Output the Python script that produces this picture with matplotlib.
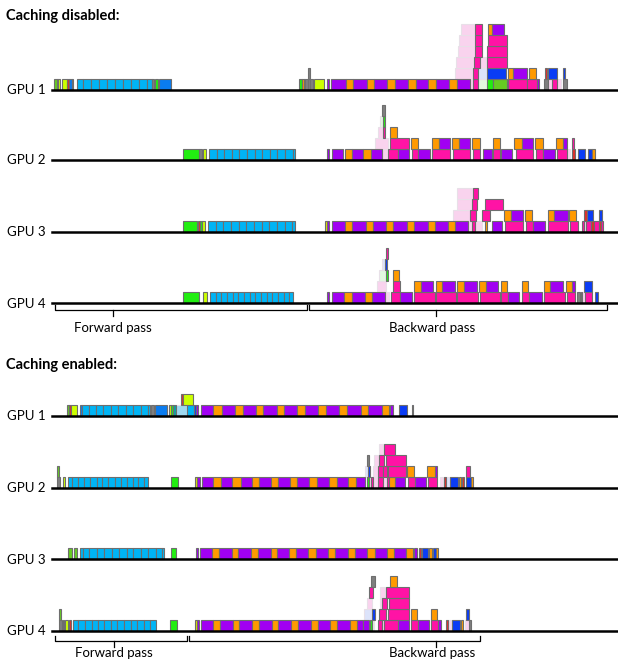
import matplotlib.pyplot as plt

plt.rcParams['font.family'] = ['Lato', 'DejaVu Sans']

COLORS = {
    'lb': '#00B4F5', 'pu': '#A100F2', 'or': '#FF9A00', 'mg': '#FF13A5',
    'lp': '#F9D3EE', 'gr': '#22EE11', 'yg': '#CCFF00', 'lg': '#66CC22',
    'bl': '#0A3CF5', 'mb': '#0A7CF0', 'gy': '#7F7F7F', 'rd': '#E0302A',
    'pb': '#DCE3FA', 'pg': '#E3F7E0', 'sk': '#9ED8F0', 'tl': '#10A0A0',
    'yl': '#E5E500',
}
PALE = {'lp', 'pb', 'pg', 'sk'}
LEVEL_H = 11

# kernels: (start, end, stack level, colour key) -- time in trace units
dis_gpu1 = [
    (54, 56.5, 0, 'lg'), (56.5, 58, 0, 'rd'), (58, 59.5, 0, 'yg'), (61.5, 66.5, 0, 'yg'),
    (66.5, 68.5, 0, 'rd'), (68.5, 71.5, 0, 'mb'), (71.5, 73, 0, 'bl'),
    (77, 83.3, 0, 'lb'), (83.3, 90.7, 0, 'lb'), (90.7, 98.7, 0, 'lb'), (98.7, 106.7, 0, 'lb'),
    (106.7, 115, 0, 'lb'), (115, 123.3, 0, 'lb'), (123.3, 131.3, 0, 'lb'), (131.3, 139.3, 0, 'lb'),
    (139.3, 147.3, 0, 'lb'), (147.3, 151.5, 0, 'lb'),
    (151.5, 154, 0, 'gy'), (154.5, 158, 0, 'gr'), (158.5, 170.5, 0, 'mb'),
    (299.3, 301.7, 0, 'gr'), (301.7, 303.5, 0, 'or'), (303.5, 305, 0, 'lb'), (305, 308.3, 0, 'gy'),
    (308.3, 310, 0, 'gy'), (308.3, 310, 1, 'gy'), (310, 312.7, 0, 'gy'),
    (314, 324, 0, 'yg'), (327.3, 329.3, 0, 'pu'), (330.7, 346, 0, 'pu'), (346, 353.3, 0, 'or'),
    (353.3, 366.7, 0, 'pu'), (366.7, 374, 0, 'or'), (374, 387.3, 0, 'pu'), (387.3, 395, 0, 'or'),
    (395, 408.3, 0, 'pu'), (408.3, 416, 0, 'or'), (416, 428.3, 0, 'pu'), (428.3, 436, 0, 'or'),
    (436, 449.3, 0, 'pu'), (449.3, 457.3, 0, 'or'), (457.3, 470, 0, 'pu'), (470, 472.7, 0, 'lp'),
    (472.7, 478.3, 0, 'mg'), (478.3, 486.7, 0, 'pg'), (486.7, 493.3, 0, 'gr'), (493.3, 506.7, 0, 'lg'),
    (508.3, 526.7, 0, 'mg'), (526.7, 536.7, 0, 'mg'), (536.7, 539.3, 0, 'pu'), (544, 548.3, 0, 'gy'),
    (548.3, 551.7, 0, 'lp'), (551.7, 556.7, 0, 'mg'), (556.7, 561, 0, 'lp'), (562.7, 567.3, 0, 'gy'),
    (455, 472.7, 1, 'lp'), (472.7, 478.3, 1, 'mg'), (478.3, 486.7, 1, 'pb'), (486.7, 506.3, 1, 'bl'),
    (508.3, 512.7, 1, 'or'), (513.3, 526.7, 1, 'pu'), (529, 536, 1, 'or'), (545, 546.7, 1, 'rd'),
    (548.3, 557.3, 1, 'bl'), (563.3, 565, 1, 'bl'),
    (455.7, 474, 2, 'lp'), (474, 480, 2, 'mg'), (480, 486, 2, 'lp'), (486.7, 506.7, 2, 'mg'),
    (457.7, 475, 3, 'lp'), (475, 481.7, 3, 'mg'), (486.7, 506.7, 3, 'mg'),
    (459, 475, 4, 'lp'), (475, 481.7, 4, 'mg'), (488, 506.7, 4, 'mg'),
    (460.7, 475, 5, 'lp'), (475, 481.7, 5, 'mg'), (488.3, 491.7, 5, 'or'), (492.3, 504, 5, 'pu'),
]

dis_gpu2 = [
    (183.3, 199.3, 0, 'gr'), (199.3, 201.7, 0, 'gy'), (202.7, 206, 0, 'yg'),
    (209.3, 216.7, 0, 'lb'), (216.7, 224.3, 0, 'lb'), (224.3, 232, 0, 'lb'), (232, 239.3, 0, 'lb'),
    (239.3, 247, 0, 'lb'), (247, 254.7, 0, 'lb'), (254.7, 262.3, 0, 'lb'), (262.3, 270, 0, 'lb'),
    (270, 277.3, 0, 'lb'), (277.3, 285, 0, 'lb'), (285, 292.7, 0, 'lb'), (292.7, 295, 0, 'lb'),
    (327.3, 329.3, 0, 'pu'), (331.7, 343.3, 0, 'pu'), (345, 351.7, 0, 'or'), (351.7, 363.3, 0, 'pu'),
    (363.3, 370.7, 0, 'or'), (370.7, 381.7, 0, 'pu'), (381.7, 388.3, 0, 'lp'), (388.3, 398.3, 0, 'mg'),
    (398.3, 409.3, 0, 'pu'), (411.7, 418.3, 0, 'mg'), (418.3, 430, 0, 'pu'), (432.3, 450, 0, 'mg'),
    (452.7, 470, 0, 'mg'), (472.7, 480, 0, 'mg'), (483.3, 491.7, 0, 'pu'), (492.7, 500, 0, 'mg'),
    (501, 511.7, 0, 'pu'), (515.7, 533.3, 0, 'mg'), (535.7, 543.3, 0, 'mg'), (543.3, 555, 0, 'pu'),
    (556.7, 566.7, 0, 'mg'), (566.7, 570, 0, 'lp'), (571.7, 575, 0, 'rd'), (578.3, 585, 0, 'bl'),
    (588.3, 591.7, 0, 'bl'), (591.7, 595, 0, 'or'),
    (375, 388.3, 1, 'lp'), (390, 409.3, 1, 'mg'), (410.7, 417.7, 1, 'or'), (431.7, 439, 1, 'or'),
    (439, 450, 1, 'pu'), (452.3, 459.3, 1, 'or'), (459.3, 470, 1, 'pu'), (472.3, 480, 1, 'or'),
    (493.3, 500, 1, 'or'), (514, 521.7, 1, 'or'), (521.7, 532.7, 1, 'pu'), (535, 542.7, 1, 'or'),
    (556, 563.3, 1, 'or'), (563.3, 566.7, 1, 'pu'), (571.7, 574, 1, 'mg'),
    (377.7, 383.3, 2, 'lp'), (382.7, 385, 2, 'mg'), (390, 396.7, 2, 'or'),
    (380, 382.7, 3, 'pg'), (382.7, 385, 3, 'gr'),
    (381.7, 385, 4, 'gy'),
]

dis_gpu3 = [
    (182.7, 196.7, 0, 'gr'), (197.7, 200, 0, 'rd'), (200, 201.7, 0, 'gr'), (201.7, 205, 0, 'yg'),
    (208.3, 216, 0, 'lb'), (216, 223.3, 0, 'lb'), (223.3, 231, 0, 'lb'), (231, 238.7, 0, 'lb'),
    (238.7, 246.3, 0, 'lb'), (246.3, 254, 0, 'lb'), (254, 261.7, 0, 'lb'), (261.7, 269.3, 0, 'lb'),
    (269.3, 277, 0, 'lb'), (277, 284.7, 0, 'lb'), (284.7, 291.7, 0, 'lb'), (291.7, 295, 0, 'lb'),
    (325, 326.7, 0, 'yl'), (326.7, 329.3, 0, 'pu'), (331.7, 345, 0, 'pu'), (345, 351.7, 0, 'or'),
    (351.7, 366, 0, 'pu'), (366, 372.7, 0, 'or'), (372.7, 386, 0, 'pu'), (386, 393.3, 0, 'or'),
    (393.3, 406.7, 0, 'pu'), (406.7, 414, 0, 'or'), (414, 427.7, 0, 'pu'), (427.7, 435, 0, 'or'),
    (435, 448.3, 0, 'pu'), (448.3, 455, 0, 'or'), (455, 468.3, 0, 'pu'), (468.3, 471.7, 0, 'lp'),
    (471.7, 475, 0, 'mg'), (475, 481.7, 0, 'lp'), (485, 487.3, 0, 'or'), (491.7, 501.7, 0, 'pu'),
    (505, 523.3, 0, 'mg'), (525.7, 532.7, 0, 'mg'), (532.7, 545, 0, 'pu'), (547.7, 568.3, 0, 'mg'),
    (570, 578.3, 0, 'mg'), (581.7, 584, 0, 'mg'), (584, 586, 0, 'lp'), (586, 591, 0, 'mg'),
    (591, 594, 0, 'rd'), (594, 599, 0, 'mg'), (599, 601, 0, 'rd'), (601, 603.3, 0, 'mg'),
    (453.3, 470, 1, 'lp'), (470, 476, 1, 'mg'), (481.7, 490, 1, 'mg'), (504.3, 510.7, 1, 'or'),
    (510.7, 522.7, 1, 'pu'), (525, 531.7, 1, 'or'), (547.7, 554, 1, 'or'), (554, 568.3, 1, 'pu'),
    (569.3, 576, 1, 'or'), (584.3, 586.7, 1, 'rd'), (586.7, 593.3, 1, 'bl'), (599, 601.7, 1, 'bl'),
    (456.7, 471.7, 2, 'lp'), (471.7, 476.7, 2, 'mg'), (485, 502.7, 2, 'mg'),
    (457.3, 472.7, 3, 'lp'), (472.7, 478.3, 3, 'mg'),
]

dis_gpu4 = [
    (183.3, 199, 0, 'gr'), (203.3, 206.7, 0, 'yg'),
    (210, 215.7, 0, 'lb'), (215.7, 221.3, 0, 'lb'), (221.3, 227, 0, 'lb'), (227, 232.7, 0, 'lb'),
    (232.7, 238.3, 0, 'lb'), (238.3, 244, 0, 'lb'), (244, 249.7, 0, 'lb'), (249.7, 255.3, 0, 'lb'),
    (255.3, 261, 0, 'lb'), (261, 266.7, 0, 'lb'), (266.7, 272.3, 0, 'lb'), (272.3, 278, 0, 'lb'),
    (278, 283.7, 0, 'lb'), (283.7, 289.3, 0, 'lb'), (289.3, 292.7, 0, 'lb'),
    (327.3, 329.3, 0, 'pu'), (331.7, 344, 0, 'pu'), (344, 351.7, 0, 'or'), (351.7, 365, 0, 'pu'),
    (365, 371.7, 0, 'or'), (371.7, 385, 0, 'pu'), (385, 389.3, 0, 'lp'), (391, 400, 0, 'mg'),
    (400, 412.3, 0, 'pu'), (414.3, 435, 0, 'mg'), (435.7, 456, 0, 'mg'), (457.3, 478.3, 0, 'mg'),
    (480, 500, 0, 'mg'), (501, 507.7, 0, 'mg'), (507.7, 519.3, 0, 'pu'), (521.7, 529, 0, 'mg'),
    (529, 541.7, 0, 'pu'), (544, 565, 0, 'mg'), (566.7, 575, 0, 'mg'), (576.7, 580, 0, 'gy'),
    (580.7, 582.3, 0, 'rd'), (582.3, 585, 0, 'lp'), (585, 591.7, 0, 'mg'), (595, 598.3, 0, 'bl'),
    (376.7, 386, 1, 'lp'), (392.7, 400, 1, 'mg'), (414.3, 420.7, 1, 'or'), (420.7, 433.3, 1, 'pu'),
    (435.7, 442.3, 1, 'or'), (442.3, 455, 1, 'pu'), (457.3, 464, 1, 'or'), (464, 476.7, 1, 'pu'),
    (479.3, 486, 1, 'or'), (486, 498.3, 1, 'pu'), (500.7, 506.7, 1, 'or'), (521.7, 528.3, 1, 'or'),
    (544, 550, 1, 'or'), (550, 563.3, 1, 'pu'), (565.7, 572.3, 1, 'or'), (572.3, 575, 1, 'pu'),
    (584.3, 591.7, 1, 'bl'),
    (379.3, 386, 2, 'pg'), (386, 387.7, 2, 'gr'), (392.7, 399.3, 2, 'or'),
    (381.7, 385.3, 3, 'pb'), (385.3, 387.3, 3, 'bl'),
    (385.7, 388.3, 4, 'mg'),
]

en_gpu1 = [
    (67.3, 69, 0, 'lg'), (69, 71, 0, 'rd'), (71, 76.7, 0, 'yg'),
    (80, 82.3, 0, 'mb'), (82.3, 89, 0, 'lb'), (89, 95.7, 0, 'lb'), (95.7, 103.3, 0, 'lb'),
    (103.3, 110.7, 0, 'lb'), (110.7, 118.3, 0, 'lb'), (118.3, 125.7, 0, 'lb'), (125.7, 133.3, 0, 'lb'),
    (133.3, 140.7, 0, 'lb'), (140.7, 148.3, 0, 'lb'), (148.3, 150, 0, 'lb'),
    (151, 154.3, 0, 'gy'), (155, 167.3, 0, 'mb'), (169.3, 171, 0, 'yg'), (171, 172.7, 0, 'gr'),
    (172.7, 176, 0, 'tl'), (176, 186.7, 0, 'sk'), (186.7, 194, 0, 'lb'), (194, 195.7, 0, 'bl'),
    (195.7, 197.5, 0, 'pu'), (201, 213.3, 0, 'pu'), (213.3, 221.7, 0, 'or'), (221.7, 235, 0, 'pu'),
    (235, 242.7, 0, 'or'), (242.7, 256, 0, 'pu'), (256, 263.3, 0, 'or'), (263.3, 276.7, 0, 'pu'),
    (276.7, 284, 0, 'or'), (284, 297.3, 0, 'pu'), (297.3, 305, 0, 'or'), (305, 318.3, 0, 'pu'),
    (318.3, 326, 0, 'or'), (326, 339.3, 0, 'pu'), (339.3, 346.7, 0, 'or'), (346.7, 360.7, 0, 'pu'),
    (360.7, 368.3, 0, 'or'), (368.3, 381.7, 0, 'pu'), (381.7, 389.3, 0, 'or'), (390, 392.7, 0, 'pu'),
    (399, 406.7, 0, 'bl'), (411.7, 413.3, 0, 'bl'),
    (181, 182.7, 1, 'rd'), (183.3, 192.7, 1, 'yg'),
]

en_gpu2 = [
    (56.7, 60, 0, 'gy'), (56.7, 59.3, 1, 'lg'), (62.7, 65, 0, 'yg'),
    (68.3, 72.3, 0, 'lb'), (72.3, 78.3, 0, 'lb'), (78.3, 84, 0, 'lb'), (84, 90, 0, 'lb'),
    (90, 96.7, 0, 'lb'), (96.7, 102.3, 0, 'lb'), (102.3, 108.3, 0, 'lb'), (108.3, 115, 0, 'lb'),
    (115, 120.7, 0, 'lb'), (120.7, 126.7, 0, 'lb'), (126.7, 132.7, 0, 'lb'), (132.7, 138.3, 0, 'lb'),
    (138.3, 144, 0, 'lb'), (144, 148.3, 0, 'lb'), (171, 177.7, 0, 'gr'),
    (195, 196.7, 0, 'yl'), (196.7, 200, 0, 'pu'), (201.7, 213.3, 0, 'pu'), (213.3, 220.7, 0, 'or'),
    (220.7, 232.3, 0, 'pu'), (232.3, 240.7, 0, 'or'), (240.7, 251.7, 0, 'pu'), (251.7, 259.3, 0, 'or'),
    (259.3, 271, 0, 'pu'), (271, 278.3, 0, 'or'), (278.3, 290, 0, 'pu'), (290, 297.3, 0, 'or'),
    (297.3, 309.3, 0, 'pu'), (309.3, 316.7, 0, 'or'), (316.7, 329, 0, 'pu'), (329, 336.7, 0, 'or'),
    (336.7, 348.3, 0, 'pu'), (348.3, 356, 0, 'or'), (356, 365, 0, 'pu'), (366.7, 369, 0, 'gr'),
    (369, 371, 0, 'lp'), (371, 373.3, 0, 'mg'), (373.3, 378.3, 0, 'lp'), (378.3, 383.3, 0, 'mg'),
    (383.3, 386.7, 0, 'lp'), (386.7, 389.3, 0, 'mg'), (389.3, 395, 0, 'or'), (395, 405, 0, 'pu'),
    (407.7, 415, 0, 'mg'), (415, 426, 0, 'pu'), (427.7, 437.3, 0, 'mg'), (440, 442.7, 0, 'lp'),
    (444.3, 446, 0, 'rd'), (446, 450, 0, 'pb'), (450, 458.3, 0, 'bl'), (459.3, 461, 0, 'or'),
    (462.3, 464, 0, 'rd'), (465.7, 470.7, 0, 'bl'), (470.7, 472.7, 0, 'or'),
    (365, 368.3, 1, 'pb'), (368.3, 370, 1, 'bl'), (373.3, 378.3, 1, 'lp'), (378.3, 382.7, 1, 'mg'),
    (383.3, 386.7, 1, 'mg'), (387.7, 406, 1, 'mg'), (407.3, 414, 1, 'or'), (427.3, 435, 1, 'or'),
    (435, 437.3, 1, 'pu'), (466, 470, 1, 'mg'),
    (366.7, 369.3, 2, 'gy'), (374, 379, 2, 'lp'), (379.3, 384, 2, 'mg'), (386, 406, 2, 'mg'),
    (379.3, 383.3, 3, 'lp'), (384, 395, 3, 'mg'),
]

en_gpu3 = [
    (68.3, 71.7, 0, 'lg'), (74.3, 77.3, 0, 'lg'),
    (80, 82.7, 0, 'lb'), (82.7, 89.3, 0, 'lb'), (89.3, 96.7, 0, 'lb'), (96.7, 104, 0, 'lb'),
    (104, 111.7, 0, 'lb'), (111.7, 119, 0, 'lb'), (119, 126.7, 0, 'lb'), (126.7, 133.3, 0, 'lb'),
    (133.3, 140.7, 0, 'lb'), (140.7, 148.3, 0, 'lb'), (148.3, 155.7, 0, 'lb'), (155.7, 161.7, 0, 'lb'),
    (161.7, 164, 0, 'lb'), (170.7, 175.7, 0, 'gr'),
    (196, 198.3, 0, 'pu'), (200, 212.3, 0, 'pu'), (212.3, 219, 0, 'or'), (219, 231.7, 0, 'pu'),
    (231.7, 238.3, 0, 'or'), (238.3, 250.7, 0, 'pu'), (250.7, 258.3, 0, 'or'), (258.3, 270.7, 0, 'pu'),
    (270.7, 277.3, 0, 'or'), (277.3, 289.3, 0, 'pu'), (289.3, 296, 0, 'or'), (296, 308.3, 0, 'pu'),
    (308.3, 316, 0, 'or'), (316, 328.3, 0, 'pu'), (328.3, 335, 0, 'or'), (335, 347.7, 0, 'pu'),
    (347.7, 355, 0, 'or'), (355, 367.3, 0, 'pu'), (367.3, 375, 0, 'or'), (375, 387.3, 0, 'pu'),
    (387.3, 394, 0, 'or'), (394, 405.7, 0, 'pu'), (405.7, 413.3, 0, 'or'), (414, 416.7, 0, 'pu'),
    (419, 420.7, 0, 'rd'), (421.7, 428.3, 0, 'bl'), (429.3, 431.7, 0, 'or'), (433.3, 436, 0, 'bl'),
    (436, 438.3, 0, 'or'),
]

en_gpu4 = [
    (59.3, 61.7, 0, 'gy'), (59.3, 61, 1, 'lg'), (62.7, 64.3, 0, 'rd'), (65, 68.3, 0, 'yg'),
    (69, 71, 0, 'rd'),
    (72.7, 78.3, 0, 'lb'), (78.3, 85, 0, 'lb'), (85, 91.7, 0, 'lb'), (91.7, 97.7, 0, 'lb'),
    (97.7, 104, 0, 'lb'), (104, 110.7, 0, 'lb'), (110.7, 117.3, 0, 'lb'), (117.3, 124, 0, 'lb'),
    (124, 130.7, 0, 'lb'), (130.7, 137.3, 0, 'lb'), (137.3, 144, 0, 'lb'), (144, 150, 0, 'lb'),
    (150, 156, 0, 'lb'), (170, 176.7, 0, 'gr'),
    (195, 196.7, 0, 'yl'), (196.7, 199, 0, 'pu'), (200.7, 212.7, 0, 'pu'), (213.3, 220, 0, 'or'),
    (220, 232.7, 0, 'pu'), (232.7, 239.3, 0, 'or'), (239.3, 251.7, 0, 'pu'), (251.7, 259.3, 0, 'or'),
    (259.3, 271.7, 0, 'pu'), (271.7, 278.3, 0, 'or'), (278.3, 290.7, 0, 'pu'), (290.7, 298.3, 0, 'or'),
    (298.3, 310.7, 0, 'pu'), (310.7, 318.3, 0, 'or'), (318.3, 330, 0, 'pu'), (330, 337.3, 0, 'or'),
    (337.3, 350, 0, 'pu'), (350, 357.3, 0, 'or'), (357.3, 363.3, 0, 'pu'), (363.3, 369.3, 0, 'pu'),
    (370, 372.3, 0, 'gr'), (372.3, 374, 0, 'pg'), (378.3, 381.7, 0, 'mg'), (381.7, 384, 0, 'lp'),
    (384, 398.3, 0, 'mg'), (398.3, 409.3, 0, 'pu'), (410.7, 418.3, 0, 'mg'), (418.3, 429.3, 0, 'pu'),
    (431, 438.3, 0, 'mg'), (438.3, 440.7, 0, 'pu'), (445.7, 447.7, 0, 'rd'), (447.7, 451, 0, 'lp'),
    (452.3, 460, 0, 'bl'), (460.7, 463.3, 0, 'or'), (465, 469, 0, 'lp'), (469, 470.7, 0, 'gy'),
    (364, 371.7, 1, 'pb'), (371.7, 375, 1, 'bl'), (379.3, 386, 1, 'mg'), (388.3, 409.3, 1, 'mg'),
    (410.7, 417.3, 1, 'or'), (431, 437.3, 1, 'or'), (465.7, 469.3, 1, 'bl'),
    (366.7, 371.7, 2, 'lp'), (380, 381.7, 2, 'lp'), (381.7, 387.3, 2, 'mg'), (389.3, 409.3, 2, 'mg'),
    (369.3, 373.3, 3, 'mg'), (380, 385, 3, 'lp'), (386, 409.3, 3, 'mg'),
    (370.7, 375, 4, 'gy'), (390, 397.3, 4, 'or'),
]

rows = [
    ("GPU 1", 89.5, dis_gpu1), ("GPU 2", 160, dis_gpu2),
    ("GPU 3", 231.7, dis_gpu3), ("GPU 4", 303.3, dis_gpu4),
    ("GPU 1", 416, en_gpu1), ("GPU 2", 487.5, en_gpu2),
    ("GPU 3", 559, en_gpu3), ("GPU 4", 630.7, en_gpu4),
]

# (y, left, split, right, forward label x, backward label x, label y)
braces = [(310, 55, 308, 607, 113, 436, 328), (641, 55, 188, 480, 114, 436, 653)]

fig = plt.figure(figsize=(6.18, 6.61), dpi=100)
ax = fig.add_axes([0, 0, 1, 1])
ax.set_xlim(0, 618)
ax.set_ylim(661, 0)
ax.axis('off')

for label, base, blocks in rows:
    # draw pale (transparent-looking) kernels first so solid ones sit on top
    ordered = sorted(blocks, key=lambda b: b[3] not in PALE)
    ax.bar([b[0] for b in ordered], height=-LEVEL_H,
           width=[b[1] - b[0] for b in ordered],
           bottom=[base - b[2] * LEVEL_H for b in ordered],
           align='edge', color=[COLORS[b[3]] for b in ordered],
           edgecolor=['#E8E0E8' if b[3] in PALE else '#6E6E6E' for b in ordered],
           linewidth=0.8, zorder=2)
    ax.plot([52, 618], [base, base], color='black', lw=1.8, zorder=3)
    ax.text(7, base + 0.5, label, ha='left', va='center', fontsize=9.5)

for y, left, split, right, fx, bx, ty in braces:
    ax.plot([left, left, split - 1, split - 1], [y - 5, y, y, y - 5], color='black', lw=0.9)
    ax.plot([split + 1, split + 1, right, right], [y - 5, y, y, y - 5], color='black', lw=0.9)
    ax.plot([fx, fx], [y, y + 6], color='black', lw=0.9)
    ax.plot([bx, bx], [y, y + 6], color='black', lw=0.9)
    ax.text(fx, ty, "Forward pass", ha='center', va='center', fontsize=9.5)
    ax.text(bx - 4, ty, "Backward pass", ha='center', va='center', fontsize=9.5)

ax.text(6, 16, "Caching disabled:", ha='left', va='center', fontsize=10.5, fontweight='bold')
ax.text(6, 365, "Caching enabled:", ha='left', va='center', fontsize=10.5, fontweight='bold')

fig.savefig("out.png", dpi=100)
